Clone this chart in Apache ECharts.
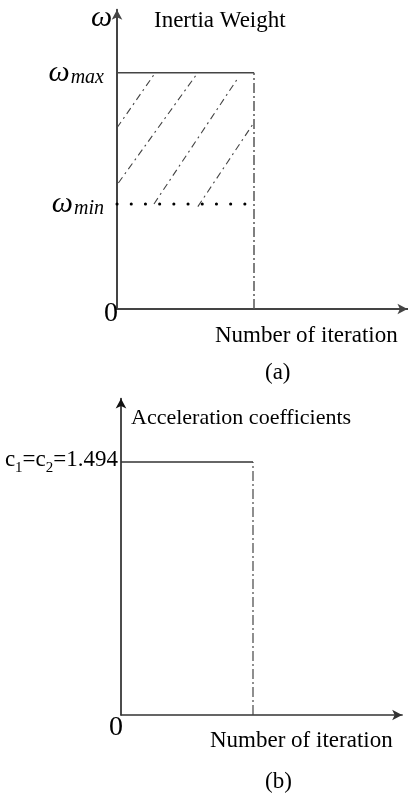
<!DOCTYPE html>
<html>
<head>
<meta charset="utf-8">
<script src="https://cdn.jsdelivr.net/npm/echarts/dist/echarts.min.js"></script>
<style>
  html, body { margin: 0; padding: 0; background: #fff; }
  #chart { width: 408px; height: 798px; }
</style>
</head>
<body>
<div id="chart"></div>
<script>
// Iteration axis is normalised: T_MAX marks the end of the run.
const T_MAX = 1;
const X_MAX_A = 2.12;
const X_MAX_B = 2.13;

// (a) inertia weight, bounded by w_max and w_min
const W_MAX = 0.9;
const W_MIN = 0.4;
const Y_MAX_A = 1.14;
const wMaxLine = [[0, W_MAX], [T_MAX, W_MAX]];
const wMinLine = [[0, W_MIN], [T_MAX, W_MIN]];
const tEndLineA = [[T_MAX, 0], [T_MAX, W_MAX]];
// diagonal hatching of the admissible band
const hatch1 = [[0, 0.69], [0.28, 0.9]];
const hatch2 = [[0.01, 0.48], [0.59, 0.9]];
const hatch3 = [[0.27, 0.40], [0.89, 0.885]];
const hatch4 = [[0.59, 0.39], [1.0, 0.71]];
const yTicksA = [W_MIN, W_MAX];
const yTickNamesA = ['{w|ω}{s|min}', '{w|ω}{s|max}'];

// (b) constant acceleration coefficients
const C_VAL = 1.494;
const Y_MAX_B = 1.87;
const cLine = [[0, C_VAL], [T_MAX, C_VAL]];
const tEndLineB = [[T_MAX, 0], [T_MAX, C_VAL]];
const yTicksB = [C_VAL];
const yTickNamesB = ['{t|c}{sub|1}{t|=c}{sub|2}{t|=1.494}'];

const SERIF = 'Liberation Serif';
const PX_A = { x: 137, y: 262.6 };
const PX_B = { x: 132, y: 169.3 };

const chart = echarts.init(document.getElementById('chart'), null, { renderer: 'canvas' });

function lineSeries(data, idx, lineStyle) {
  return {
    type: 'line',
    xAxisIndex: idx,
    yAxisIndex: idx,
    data: data,
    showSymbol: false,
    symbol: 'none',
    silent: true,
    animation: false,
    lineStyle: lineStyle
  };
}

function titleText(text, left, top, size, italic) {
  return {
    text: text, left: left, top: top, padding: 0,
    textStyle: {
      fontFamily: SERIF, fontWeight: 'normal', color: '#000',
      fontSize: size, fontStyle: italic ? 'italic' : 'normal'
    }
  };
}

function arrowLine(color, width) {
  return { onZero: false, symbol: ['none', 'arrow'], symbolSize: [8, 10],
    lineStyle: { color: color, width: width } };
}

const hatchStyle = { color: '#444', width: 1.1, type: [7, 4, 2, 4] };

const option = {
  backgroundColor: '#fff',
  animation: false,
  title: [
    titleText('ω', 91, 3, 30, true),
    titleText('Inertia Weight', 154, 9, 23),
    titleText('Number of iteration', 215, 324, 23),
    titleText('(a)', 265, 361, 23),
    titleText('Acceleration coefficients', 131, 407, 22),
    titleText('Number of iteration', 210, 729, 23),
    titleText('(b)', 265, 770, 23)
  ],
  grid: [
    { left: 117, top: 309 - Y_MAX_A * PX_A.y, width: X_MAX_A * PX_A.x, height: Y_MAX_A * PX_A.y },
    { left: 121, top: 715 - Y_MAX_B * PX_B.y, width: X_MAX_B * PX_B.x, height: Y_MAX_B * PX_B.y }
  ],
  xAxis: [
    {
      gridIndex: 0, type: 'value', min: 0, max: X_MAX_A,
      splitLine: { show: false }, axisTick: { show: false },
      axisLine: arrowLine('#444', 2),
      axisLabel: { customValues: [0], formatter: () => '0', align: 'right',
        verticalAlign: 'middle', margin: 5, padding: [0, -1, 0, 0],
        fontFamily: SERIF, fontSize: 28, color: '#000' }
    },
    {
      gridIndex: 1, type: 'value', min: 0, max: X_MAX_B,
      splitLine: { show: false }, axisTick: { show: false },
      axisLine: arrowLine('#333', 1.5),
      axisLabel: { customValues: [0], formatter: () => '0', align: 'right',
        verticalAlign: 'middle', margin: 13, padding: [0, -2, 0, 0],
        fontFamily: SERIF, fontSize: 28, color: '#000' }
    }
  ],
  yAxis: [
    {
      gridIndex: 0, type: 'value', min: 0, max: Y_MAX_A,
      splitLine: { show: false }, axisTick: { show: false },
      axisLine: arrowLine('#444', 2),
      axisLabel: {
        customValues: yTicksA,
        formatter: v => yTickNamesA[yTicksA.indexOf(v)],
        margin: 13, color: '#000',
        rich: {
          w: { fontFamily: SERIF, fontStyle: 'italic', fontSize: 30, verticalAlign: 'bottom', padding: [0, 1, 0, 0] },
          s: { fontFamily: SERIF, fontStyle: 'italic', fontSize: 20, verticalAlign: 'bottom' }
        }
      }
    },
    {
      gridIndex: 1, type: 'value', min: 0, max: Y_MAX_B,
      splitLine: { show: false }, axisTick: { show: false },
      axisLine: arrowLine('#111', 1.5),
      axisLabel: {
        customValues: yTicksB,
        formatter: v => yTickNamesB[yTicksB.indexOf(v)],
        margin: 3, color: '#000',
        rich: {
          t: { fontFamily: SERIF, fontSize: 23, verticalAlign: 'bottom', padding: [0, 0, 4, 0] },
          sub: { fontFamily: SERIF, fontSize: 15, verticalAlign: 'bottom' }
        }
      }
    }
  ],
  series: [
    lineSeries(hatch1, 0, hatchStyle),
    lineSeries(hatch2, 0, hatchStyle),
    lineSeries(hatch3, 0, hatchStyle),
    lineSeries(hatch4, 0, hatchStyle),
    lineSeries(wMinLine, 0, { color: '#000', width: 3, type: [0.1, 14.1], cap: 'round' }),
    lineSeries(wMaxLine, 0, { color: '#444', width: 1.5, type: 'solid' }),
    lineSeries(tEndLineA, 0, { color: '#555', width: 1.5, type: [10, 3, 2, 3] }),
    lineSeries(cLine, 1, { color: '#333', width: 1.5, type: 'solid' }),
    lineSeries(tEndLineB, 1, { color: '#444', width: 1.2, type: [10, 3, 2, 3] })
  ]
};

chart.setOption(option);
</script>
</body>
</html>
